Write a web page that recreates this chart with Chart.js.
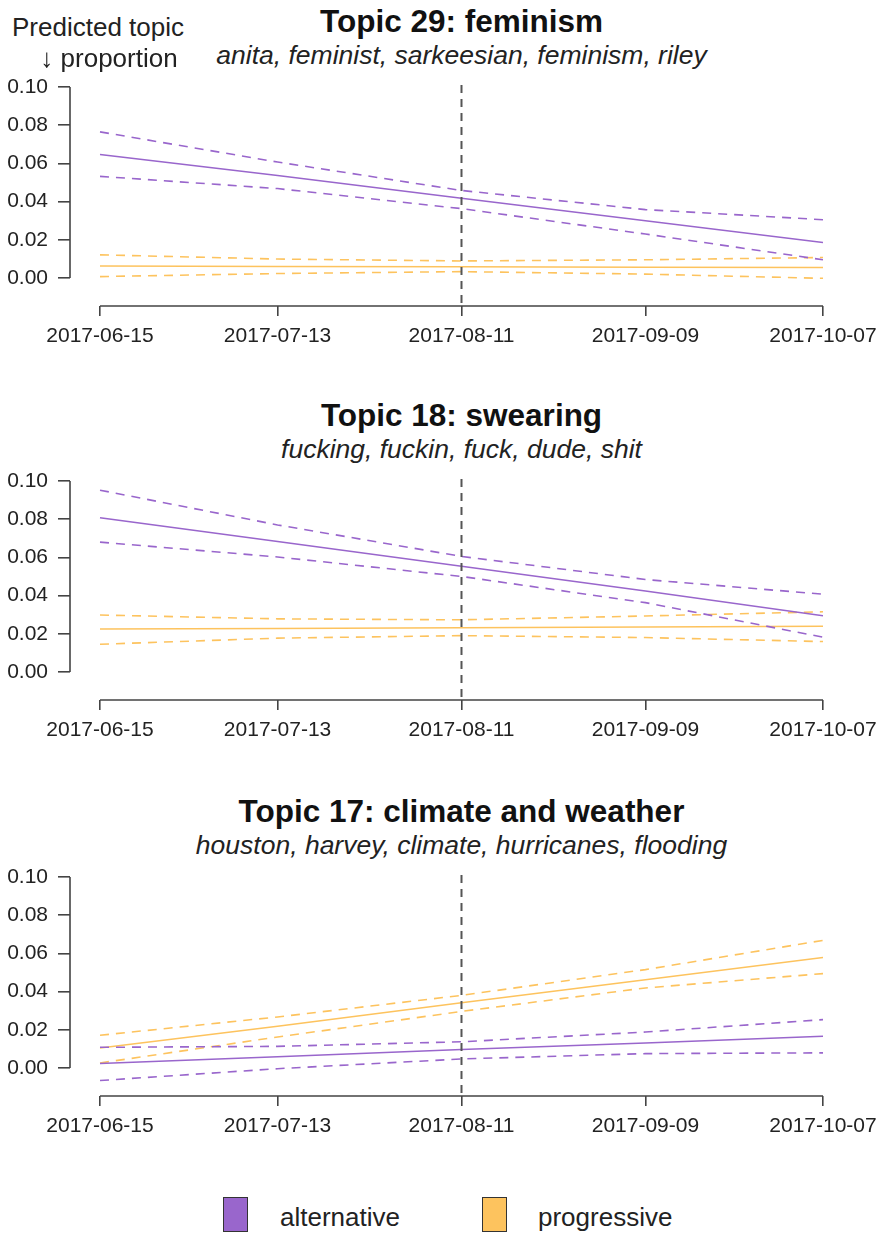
<!DOCTYPE html>
<html>
<head>
<meta charset="utf-8">
<script src="https://cdn.jsdelivr.net/npm/chart.js@4.4.0/dist/chart.umd.min.js"></script>
<style>
  body { margin: 0; background: #fff; font-family: "Liberation Sans", Arial, Helvetica, sans-serif; color: #111; }
  #page { position: relative; width: 878px; height: 1234px; overflow: hidden; }
  #page canvas { position: absolute; left: 0; }
  .title { position: absolute; left: 0; width: 923px; text-align: center; font-weight: bold; font-size: 31.5px; line-height: 31.5px; white-space: nowrap; }
  .sub { position: absolute; left: 0; width: 923px; text-align: center; font-style: italic; font-size: 26.5px; line-height: 26.5px; white-space: nowrap; color: #222; }
  .ylab { position: absolute; font-size: 26px; line-height: 26px; white-space: nowrap; color: #222; text-align: center; width: 200px; }
  .key { position: absolute; top: 1197px; width: 25px; height: 35px; border: 1.5px solid #333; box-sizing: border-box; }
  .keytxt { position: absolute; top: 1204px; font-size: 26px; line-height: 26px; color: #222; }
</style>
</head>
<body>
<div id="page"></div>
<script>
// dates on the x axis (also the tick labels)
var dates = ["2017-06-15", "2017-07-13", "2017-08-11", "2017-09-09", "2017-10-07"];
var markerDate = "2017-08-11";
var yTicks = [0, 0.02, 0.04, 0.06, 0.08, 0.10];
var seriesNames = ["alternative", "progressive"];
var seriesColors = ["#9966cc", "#fdc35e"];

var titles = ["Topic 29: feminism", "Topic 18: swearing", "Topic 17: climate and weather"];
var subtitles = [
  "anita, feminist, sarkeesian, feminism, riley",
  "fucking, fuckin, fuck, dude, shit",
  "houston, harvey, climate, hurricanes, flooding"
];

// topic 29
var feminismAlt   = [0.0647, 0.0537, 0.0417, 0.0300, 0.0186];
var feminismAltHi = [0.0765, 0.0607, 0.0458, 0.0358, 0.0305];
var feminismAltLo = [0.0532, 0.0468, 0.0363, 0.0230, 0.0095];
var feminismPro   = [0.0063, 0.0060, 0.0058, 0.0056, 0.0054];
var feminismProHi = [0.0121, 0.0099, 0.0089, 0.0095, 0.0107];
var feminismProLo = [0.0007, 0.0023, 0.0033, 0.0020, -0.0002];

// topic 18
var swearingAlt   = [0.0808, 0.0683, 0.0553, 0.0424, 0.0294];
var swearingAltHi = [0.0952, 0.0770, 0.0605, 0.0484, 0.0407];
var swearingAltLo = [0.0680, 0.0602, 0.0500, 0.0363, 0.0182];
var swearingPro   = [0.0225, 0.0228, 0.0231, 0.0235, 0.0239];
var swearingProHi = [0.0298, 0.0278, 0.0273, 0.0293, 0.0315];
var swearingProLo = [0.0145, 0.0177, 0.0190, 0.0180, 0.0159];

// topic 17
var climateAlt   = [0.0023, 0.0058, 0.0096, 0.0131, 0.0166];
var climateAltHi = [0.0108, 0.0113, 0.0137, 0.0188, 0.0253];
var climateAltLo = [-0.0066, -0.0004, 0.0047, 0.0075, 0.0079];
var climatePro   = [0.0105, 0.0218, 0.0342, 0.0462, 0.0579];
var climateProHi = [0.0171, 0.0267, 0.0380, 0.0515, 0.0668];
var climateProLo = [0.0026, 0.0162, 0.0296, 0.0419, 0.0494];

var panels = [
  { alt: [feminismAlt, feminismAltHi, feminismAltLo], pro: [feminismPro, feminismProHi, feminismProLo] },
  { alt: [swearingAlt, swearingAltHi, swearingAltLo], pro: [swearingPro, swearingProHi, swearingProLo] },
  { alt: [climateAlt, climateAltHi, climateAltLo], pro: [climatePro, climateProHi, climateProLo] }
];
var panelTops = [87, 481, 877];   // pixel row of the 0.10 tick in each panel

function dayOf(d) { return (Date.parse(d) - Date.parse(dates[0])) / 86400000; }
var days = dates.map(dayOf);

var FONT = "'Liberation Sans', Arial, Helvetica, sans-serif";
var page = document.getElementById("page");

function addDiv(cls, text, top, left) {
  var d = document.createElement("div");
  d.className = cls;
  d.textContent = text;
  d.style.top = top + "px";
  if (left !== undefined) d.style.left = left + "px";
  page.appendChild(d);
  return d;
}

// R-style axes: lines only between first and last tick, plus the dashed marker
var rAxes = {
  id: "rAxes",
  afterDatasetsDraw: function (chart) {
    var c = chart.ctx, a = chart.chartArea, x = chart.scales.x, y = chart.scales.y;
    c.save();
    c.strokeStyle = "#555";
    c.lineWidth = 2;
    c.setLineDash([8, 6]);
    var mx = x.getPixelForValue(dayOf(markerDate));
    c.beginPath();
    c.moveTo(mx, a.top - 2);
    c.lineTo(mx, a.bottom);
    c.stroke();
    c.setLineDash([]);
    c.strokeStyle = "#444";
    c.lineWidth = 1.6;
    c.beginPath();
    c.moveTo(a.left, y.getPixelForValue(yTicks[0]));
    c.lineTo(a.left, y.getPixelForValue(yTicks[yTicks.length - 1]));
    c.moveTo(x.getPixelForValue(days[0]), a.bottom);
    c.lineTo(x.getPixelForValue(days[days.length - 1]), a.bottom);
    c.stroke();
    c.restore();
  }
};

function line(vals, color, dashed) {
  return {
    data: vals.map(function (v, i) { return { x: days[i], y: v }; }),
    borderColor: color,
    borderWidth: dashed ? 1.6 : 1.5,
    borderDash: dashed ? [9, 7] : [],
    pointRadius: 0,
    tension: 0,
    fill: false
  };
}

panels.forEach(function (p, i) {
  var top = panelTops[i];
  addDiv("title", titles[i], top - 55 - 26.5);
  addDiv("sub", subtitles[i], top - 23 - 22.5);

  var cv = document.createElement("canvas");
  cv.width = 878;
  cv.height = 279;
  cv.style.top = (top - 15) + "px";
  page.appendChild(cv);

  var ds = [];
  [p.alt, p.pro].forEach(function (set, k) {
    ds.push(line(set[1], seriesColors[k], true));
    ds.push(line(set[2], seriesColors[k], true));
    ds.push(line(set[0], seriesColors[k], false));
  });

  new Chart(cv.getContext("2d"), {
    type: "line",
    data: { datasets: ds },
    options: {
      responsive: false,
      animation: false,
      layout: { padding: { top: 15, right: 55, left: 0, bottom: 0 } },
      plugins: { legend: { display: false }, tooltip: { enabled: false } },
      scales: {
        x: {
          type: "linear",
          min: -4.73,
          max: days[days.length - 1],
          afterBuildTicks: function (s) { s.ticks = days.map(function (v) { return { value: v }; }); },
          afterFit: function (s) { s.height = 45; s.paddingLeft = 0; s.paddingRight = 0; },
          border: { display: false },
          grid: { drawOnChartArea: false, drawTicks: true, tickLength: 10, color: "#444", lineWidth: 1.6 },
          ticks: {
            autoSkip: false, maxRotation: 0, padding: 8, color: "#222",
            font: { family: FONT, size: 21 },
            callback: function (v) { return dates[days.indexOf(v)]; }
          }
        },
        y: {
          min: -0.0147,
          max: yTicks[yTicks.length - 1],
          afterBuildTicks: function (s) { s.ticks = yTicks.map(function (v) { return { value: v }; }); },
          afterFit: function (s) { s.width = 70; s.paddingTop = 0; s.paddingBottom = 0; },
          border: { display: false },
          grid: { drawOnChartArea: false, drawTicks: true, tickLength: 12, color: "#444", lineWidth: 1.6 },
          ticks: {
            padding: 10, color: "#222",
            font: { family: FONT, size: 21 },
            callback: function (v) { return v.toFixed(2); }
          }
        }
      }
    },
    plugins: [rAxes]
  });
});

// y-axis note in the top-left corner
addDiv("ylab", "Predicted topic", 36 - 22, -2);
addDiv("ylab", "\u2193 proportion", 67 - 22, 9);

// legend
var keyLeft = [223, 482];
var keyText = [280, 538];
seriesNames.forEach(function (n, k) {
  var b = addDiv("key", "", 1197, keyLeft[k]);
  b.style.background = seriesColors[k];
  addDiv("keytxt", n, 1204, keyText[k]);
});
</script>
</body>
</html>
